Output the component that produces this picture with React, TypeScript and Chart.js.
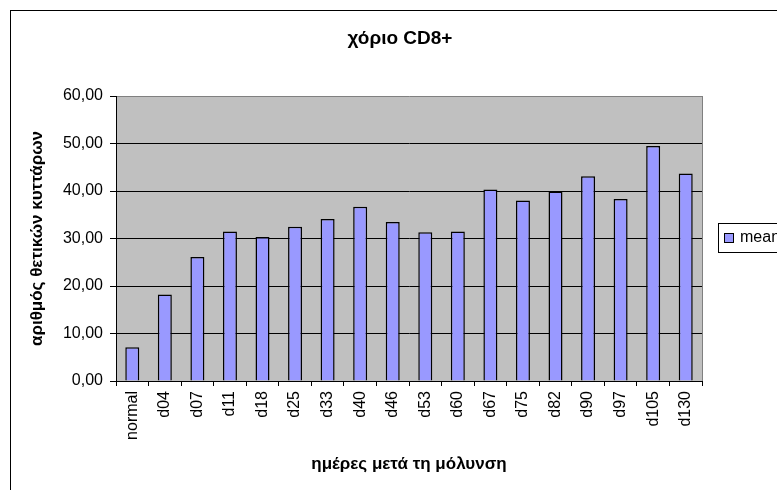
import React, { useEffect, useRef } from "react";
import { Chart, registerables } from "chart.js";

Chart.register(...registerables);

const chartTitle = "χόριο CD8+";
const xAxisTitle = "ημέρες μετά τη μόλυνση";
const yAxisTitle = "αριθμός θετικών κυττάρων";
const seriesName = "mean";

const categories = [
  "normal", "d04", "d07", "d11", "d18", "d25", "d33", "d40", "d46",
  "d53", "d60", "d67", "d75", "d82", "d90", "d97", "d105", "d130",
];
const meanValues = [
  7.1, 18.2, 26.1, 31.5, 30.3, 32.5, 34.1, 36.7, 33.5,
  31.3, 31.5, 40.3, 38.0, 39.9, 43.1, 38.3, 49.5, 43.7,
];
const yMin = 0;
const yMax = 60;
const yStep = 10;

const FONT = "'Liberation Sans', Arial, sans-serif";
const W = 778;
const H = 478;

const decorPlugin = {
  id: "decor",
  beforeDraw(chart: any) {
    const { ctx, chartArea } = chart;
    ctx.save();
    ctx.fillStyle = "#C0C0C0";
    ctx.fillRect(chartArea.left, chartArea.top, chartArea.right - chartArea.left, chartArea.bottom - chartArea.top);
    ctx.restore();
  },
  afterDatasetsDraw(chart: any) {
    const { ctx, chartArea } = chart;
    ctx.save();
    ctx.strokeStyle = "#808080";
    ctx.lineWidth = 1;
    ctx.beginPath();
    ctx.moveTo(Math.round(chartArea.right) + 0.5, chartArea.top);
    ctx.lineTo(Math.round(chartArea.right) + 0.5, chartArea.bottom);
    ctx.stroke();
    ctx.restore();
  },
  afterDraw(chart: any) {
    const { ctx } = chart;
    ctx.save();
    // title
    ctx.fillStyle = "#000";
    ctx.font = `bold 19px ${FONT}`;
    ctx.textAlign = "center";
    ctx.textBaseline = "middle";
    ctx.fillText(chartTitle, W / 2, 28);
    // legend
    ctx.strokeStyle = "#000";
    ctx.lineWidth = 1;
    ctx.strokeRect(707.5, 212.5, 120, 29);
    ctx.fillStyle = "#9999FF";
    ctx.fillRect(713.5, 222.5, 9, 9);
    ctx.strokeRect(713.5, 222.5, 9, 9);
    ctx.fillStyle = "#000";
    ctx.font = `16px ${FONT}`;
    ctx.textAlign = "left";
    ctx.textBaseline = "middle";
    ctx.fillText(seriesName, 729, 227);
    ctx.restore();
  },
};

export default function App() {
  const ref = useRef<HTMLCanvasElement | null>(null);

  useEffect(() => {
    if (!ref.current) return;
    const chart = new Chart(ref.current, {
      type: "bar",
      data: {
        labels: categories,
        datasets: [
          {
            label: seriesName,
            data: meanValues,
            backgroundColor: "#9999FF",
            borderColor: "#000000",
            borderWidth: 1.5,
            barPercentage: 0.43,
            categoryPercentage: 1,
          },
        ],
      },
      options: {
        animation: false,
        responsive: false,
        devicePixelRatio: 1,
        layout: { padding: { left: 0, right: W - 691, top: 85, bottom: 0 } },
        plugins: {
          legend: { display: false },
          title: { display: false },
          tooltip: { enabled: false },
        },
        scales: {
          x: {
            grid: {
              drawOnChartArea: false,
              drawTicks: true,
              tickLength: 5,
              color: "#000",
              tickColor: "#000",
              offset: true,
            },
            border: { color: "#000", width: 1 },
            ticks: {
              color: "#000",
              font: { family: FONT, size: 16 },
              minRotation: 90,
              maxRotation: 90,
              autoSkip: false,
              padding: 5,
            },
            title: {
              display: true,
              text: xAxisTitle,
              color: "#000",
              font: { family: FONT, size: 17, weight: "bold" },
              padding: { top: 0, bottom: 14 },
            },
            afterFit(scale: any) {
              scale.height = H - 370;
              scale.paddingLeft = 0;
              scale.paddingRight = 0;
            },
          },
          y: {
            min: yMin,
            max: yMax,
            grid: {
              color: (c: any) => (c.tick && c.tick.value === yMax ? "#808080" : "#000"),
              tickColor: "#000",
              tickLength: 6,
            },
            border: { color: "#000", width: 1 },
            ticks: {
              stepSize: yStep,
              color: "#000",
              font: { family: FONT, size: 16 },
              padding: 7,
              callback: (v: any) => Number(v).toFixed(2).replace(".", ","),
            },
            title: {
              display: true,
              text: yAxisTitle,
              color: "#000",
              font: { family: FONT, size: 17, weight: "bold" },
              padding: { top: 16, bottom: 0 },
            },
            afterFit(scale: any) {
              scale.width = 105;
              scale.paddingTop = 0;
              scale.paddingBottom = 0;
            },
          },
        },
      },
      plugins: [decorPlugin],
    });
    return () => chart.destroy();
  }, []);

  return (
    <div style={{ position: "fixed", inset: 0, overflow: "hidden", background: "#fff" }}>
      <div
        style={{
          position: "absolute",
          left: 10,
          top: 10,
          width: W,
          height: 500,
          border: "1px solid #000",
        }}
      >
        <canvas ref={ref} width={W} height={H} style={{ display: "block", width: W, height: H }} />
      </div>
    </div>
  );
}
